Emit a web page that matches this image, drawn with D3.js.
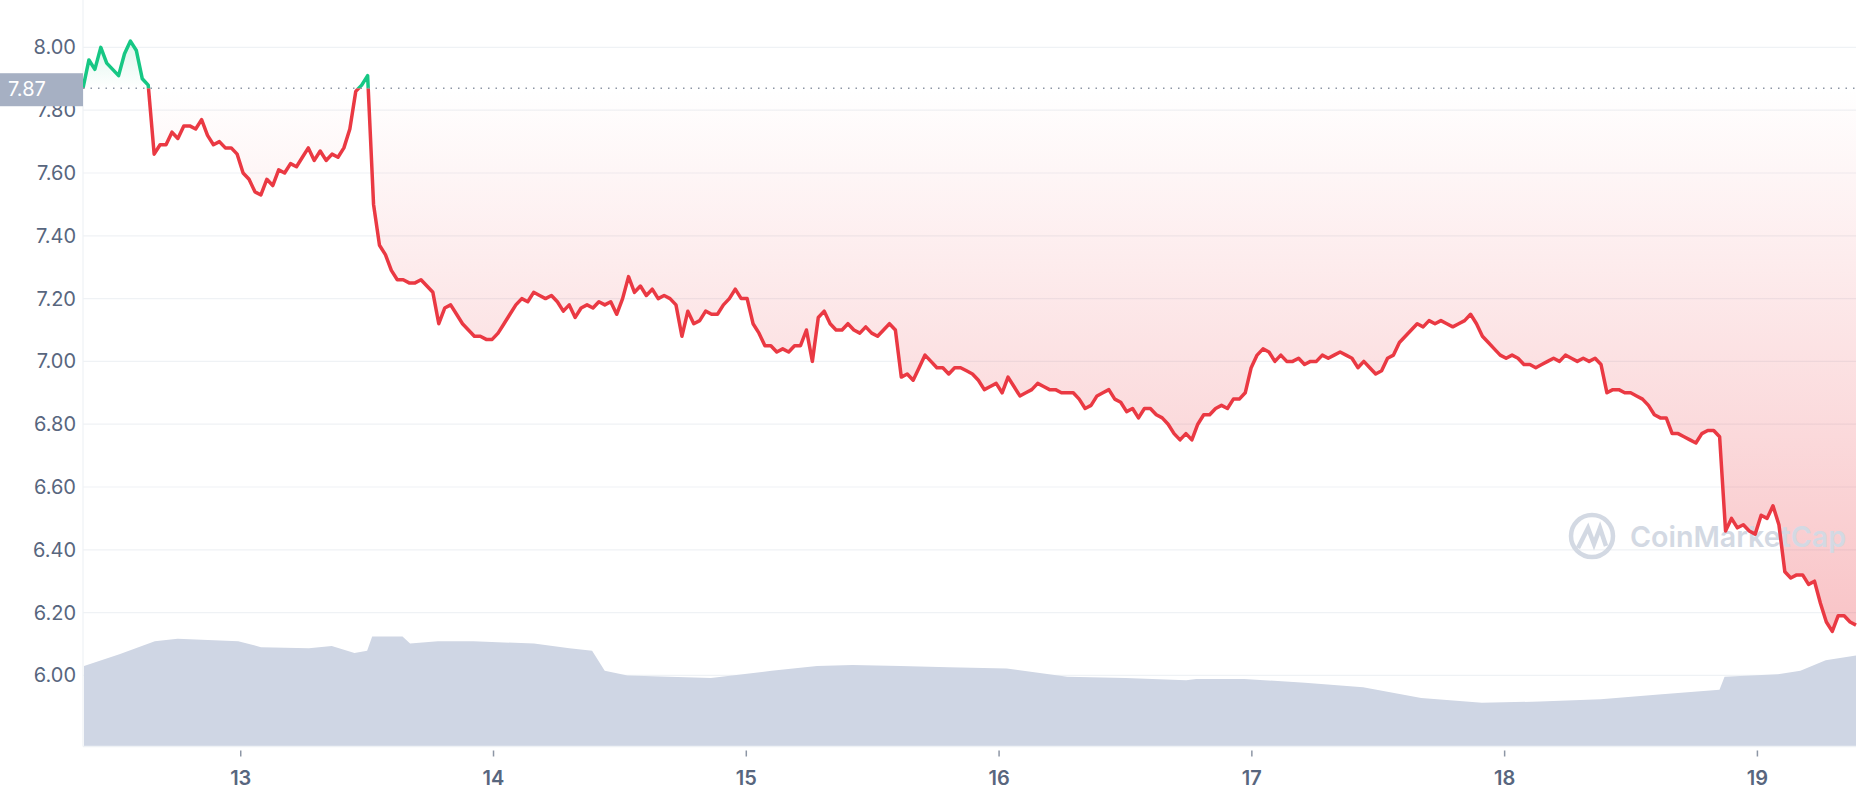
<!DOCTYPE html>
<html><head><meta charset="utf-8">
<script src="https://cdn.jsdelivr.net/npm/d3@7"></script>
<style>body{margin:0;background:#fff}svg{display:block;font-family:Inter,"Noto Sans",sans-serif}</style>
</head><body><svg id="c" width="1858" height="800"></svg>
<script>
const startDay = 12.376, endDay = 19.39;
const prices = [7.87,7.96,7.93,8.00,7.95,7.93,7.91,7.98,8.02,7.99,7.90,7.88,7.66,7.69,7.69,7.73,7.71,7.75,7.75,7.74,7.77,7.72,7.69,7.70,7.68,7.68,7.66,7.60,7.58,7.54,7.53,7.58,7.56,7.61,7.60,7.63,7.62,7.65,7.68,7.64,7.67,7.64,7.66,7.65,7.68,7.74,7.86,7.88,7.91,7.50,7.37,7.34,7.29,7.26,7.26,7.25,7.25,7.26,7.24,7.22,7.12,7.17,7.18,7.15,7.12,7.10,7.08,7.08,7.07,7.07,7.09,7.12,7.15,7.18,7.20,7.19,7.22,7.21,7.20,7.21,7.19,7.16,7.18,7.14,7.17,7.18,7.17,7.19,7.18,7.19,7.15,7.20,7.27,7.22,7.24,7.21,7.23,7.20,7.21,7.20,7.18,7.08,7.16,7.12,7.13,7.16,7.15,7.15,7.18,7.20,7.23,7.20,7.20,7.12,7.09,7.05,7.05,7.03,7.04,7.03,7.05,7.05,7.10,7.00,7.14,7.16,7.12,7.10,7.10,7.12,7.10,7.09,7.11,7.09,7.08,7.10,7.12,7.10,6.95,
6.96,6.94,6.98,7.02,7.00,6.98,6.98,6.96,6.98,6.98,6.97,6.96,6.94,6.91,6.92,6.93,6.90,6.95,6.92,6.89,6.90,6.91,6.93,6.92,6.91,6.91,6.90,6.90,6.90,6.88,6.85,6.86,6.89,6.90,6.91,6.88,6.87,6.84,6.85,6.82,6.85,6.85,6.83,6.82,6.80,6.77,6.75,6.77,6.75,6.80,6.83,6.83,6.85,6.86,6.85,6.88,6.88,6.90,6.98,7.02,7.04,7.03,7.00,7.02,7.00,7.00,7.01,6.99,7.00,7.00,7.02,7.01,7.02,7.03,7.02,7.01,6.98,7.00,6.98,6.96,6.97,7.01,7.02,7.06,7.08,7.10,7.12,7.11,7.13,7.12,7.13,7.12,7.11,7.12,7.13,7.15,7.12,7.08,7.06,7.04,7.02,7.01,7.02,7.01,6.99,6.99,6.98,6.99,7.00,7.01,7.00,7.02,7.01,7.00,7.01,7.00,7.01,6.99,6.90,6.91,6.91,6.90,6.90,6.89,6.88,6.86,6.83,6.82,6.82,6.77,6.77,6.76,6.75,6.74,6.77,6.78,6.78,6.76,6.46,6.50,6.47,6.48,6.46,6.45,6.51,6.50,6.54,6.48,6.33,6.31,6.32,6.32,6.29,6.30,6.23,6.17,6.14,6.19,6.19,6.17,6.16];
const volDays = [12.38,12.52,12.66,12.75,12.99,13.08,13.27,13.36,13.45,13.50,13.52,13.64,13.67,13.78,13.92,14.16,14.30,14.39,14.44,14.53,14.86,15.10,15.28,15.42,15.61,15.80,16.03,16.27,16.50,16.74,16.78,16.97,17.21,17.44,17.67,17.91,18.14,18.38,18.61,18.85,18.87,19.08,19.17,19.27,19.39];
const volumes = [68,78,89,91,89,84,83,85,79,81,93,93,87,89,89,87,83,81,64,60,58,64,68,69,68,67,66,59,58,56,57,57,54,50,41,37,38,40,44,48,59,61,64,73,77];
const yTicks = [6.00,6.20,6.40,6.60,6.80,7.00,7.20,7.40,7.60,7.80,8.00];
const xTicks = [13,14,15,16,17,18,19];
const basePrice = prices[0];

const svg = d3.select("#c");
const L=83, R=1856, B=746.5;
const x = d3.scaleLinear().domain([startDay,endDay]).range([L,R]);
const y = d3.scaleLinear().domain([6,8]).range([675.4,47.4]);
const yv = d3.scaleLinear().domain([0,93]).range([B,B-110]);
const step = (endDay-startDay)/(prices.length-1);
const data = prices.map((p,i)=>({d:startDay+i*step,p}));

svg.append("g").selectAll("line").data(yTicks).join("line")
  .attr("x1",L).attr("x2",R).attr("y1",d=>y(d)).attr("y2",d=>y(d))
  .attr("stroke","#eff2f5").attr("stroke-width",1.2);
svg.append("line").attr("x1",L).attr("x2",L).attr("y1",0).attr("y2",B).attr("stroke","#eff2f5").attr("stroke-width",1.2);

svg.append("path").datum(volDays.map((d,i)=>({d,v:volumes[i]})))
  .attr("fill","#cfd6e4")
  .attr("d",d3.area().x(d=>x(d.d)).y0(B).y1(d=>yv(d.v)));

const defs = svg.append("defs");
const by = y(basePrice);
defs.append("clipPath").attr("id","above").append("rect").attr("x",0).attr("y",0).attr("width",1858).attr("height",by);
defs.append("clipPath").attr("id","below").append("rect").attr("x",0).attr("y",by).attr("width",1858).attr("height",800-by);
const gr = defs.append("linearGradient").attr("id","gr").attr("gradientUnits","userSpaceOnUse")
  .attr("x1",0).attr("x2",0).attr("y1",by).attr("y2",y(d3.min(prices)));
gr.append("stop").attr("offset",0).attr("stop-color","#ea3943").attr("stop-opacity",0);
gr.append("stop").attr("offset",1).attr("stop-color","#ea3943").attr("stop-opacity",0.3);
const gg = defs.append("linearGradient").attr("id","gg").attr("gradientUnits","userSpaceOnUse")
  .attr("x1",0).attr("x2",0).attr("y1",by).attr("y2",y(d3.max(prices)));
gg.append("stop").attr("offset",0).attr("stop-color","#16c784").attr("stop-opacity",0);
gg.append("stop").attr("offset",1).attr("stop-color","#16c784").attr("stop-opacity",0.15);

const area = d3.area().x(d=>x(d.d)).y0(by).y1(d=>y(d.p));
const line = d3.line().x(d=>x(d.d)).y(d=>y(d.p));
svg.append("path").datum(data).attr("d",area).attr("fill","url(#gr)").attr("clip-path","url(#below)");
svg.append("path").datum(data).attr("d",area).attr("fill","url(#gg)").attr("clip-path","url(#above)");

const wm = svg.append("g").attr("fill","none").attr("stroke","#d3d9e3").attr("stroke-width",4.5);
wm.append("circle").attr("cx",1592).attr("cy",536).attr("r",21);
wm.append("path").attr("d","M1578,548 L1588,528 L1594,544 L1600,528 L1606,546");
svg.append("text").attr("x",1630).attr("y",547).attr("font-size",29).attr("font-weight",600)
  .attr("textLength",216).attr("lengthAdjust","spacingAndGlyphs")
  .attr("fill","#d3d9e3").text("CoinMarketCap");

svg.append("path").datum(data).attr("d",line).attr("fill","none").attr("stroke","#ea3943").attr("stroke-width",3.5).attr("stroke-linejoin","round").attr("clip-path","url(#below)");
svg.append("path").datum(data).attr("d",line).attr("fill","none").attr("stroke","#16c784").attr("stroke-width",3.5).attr("stroke-linejoin","round").attr("clip-path","url(#above)");

svg.append("line").attr("x1",L).attr("x2",R).attr("y1",by).attr("y2",by)
  .attr("stroke","#8d96a5").attr("stroke-width",1.5).attr("stroke-dasharray","1.5,6");

svg.append("g").selectAll("text").data(yTicks).join("text")
  .attr("x",76).attr("y",d=>y(d)+7).attr("text-anchor","end").attr("font-size",20)
  .attr("fill","#58667e").text(d=>d.toFixed(2));
svg.append("rect").attr("x",0).attr("y",by-15).attr("width",L).attr("height",33).attr("fill","#a6b0c3");
svg.append("text").attr("x",8).attr("y",by+8).attr("font-size",20).attr("fill","#fff").text(basePrice.toFixed(2));

svg.append("line").attr("x1",L).attr("x2",R).attr("y1",B).attr("y2",B).attr("stroke","#eff2f5").attr("stroke-width",1.5);
const xg = svg.append("g").selectAll("g").data(xTicks).join("g").attr("transform",d=>`translate(${x(d)},${B})`);
xg.append("line").attr("y1",4).attr("y2",10).attr("stroke","#8d96a5").attr("stroke-width",1.5);
xg.append("text").attr("y",38).attr("text-anchor","middle").attr("font-size",20).attr("font-weight",600).attr("fill","#58667e").text(d=>d);
</script></body></html>
